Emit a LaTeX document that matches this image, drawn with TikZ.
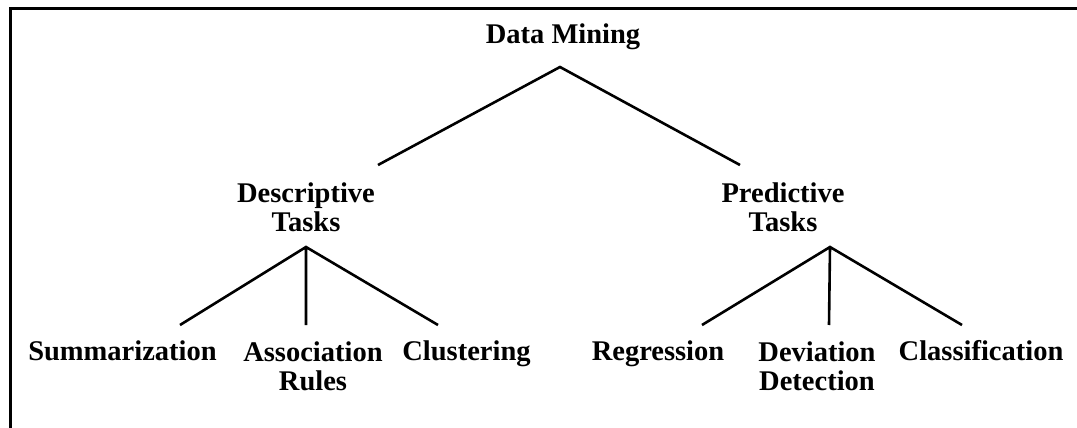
\documentclass[tikz,border=0pt]{standalone}
\usepackage{fontspec}
\setmainfont{Liberation Serif}
\tikzset{
  task/.style={font=\bfseries\fontsize{14.25}{14.5}\selectfont, align=center, inner sep=0pt, anchor=base},
  branch/.style={line width=1.3pt},
}
\begin{document}
\begin{tikzpicture}[x=0.5pt,y=-0.5pt]
    \useasboundingbox (0,0) rectangle (1077,428);
    \draw[line width=1.5pt] (10,428) |- (1077,8.5);
    % levels (base = last line)
    \node[task] (dm) at (563,43) {Data Mining};
    \node[task] (desc) at (306,231) {Descriptive\\Tasks};
    \node[task] (pred) at (783,231) {Predictive\\Tasks};
    \node[task] (summ) at (122.5,360) {Summarization};
    \node[task] (assoc) at (313,390) {Association\\Rules};
    \node[task] (clus) at (466.5,360) {Clustering};
    \node[task] (regr) at (658,360) {Regression};
    \node[task] (dev) at (817,390) {Deviation\\Detection};
    \node[task] (class) at (981,360) {Classification};
    % junctions
    \coordinate (dm-j) at (560,67);
    \coordinate (desc-in) at (378,165);
    \coordinate (pred-in) at (740,165);
    \coordinate (desc-j) at (306,247);
    \coordinate (pred-j) at (830,247);
    \foreach \name/\x in {summ/180,assoc/306,clus/438,regr/702,dev/829,class/962}{
        \coordinate (\name-in) at (\x,325);
    }
    \draw[branch] (desc-in) -- (dm-j) -- (pred-in);
    \draw[branch] (summ-in) -- (desc-j) -- (clus-in) (desc-j) -- (assoc-in);
    \draw[branch] (regr-in) -- (pred-j) -- (class-in) (pred-j) -- (dev-in);
\end{tikzpicture}
\end{document}
